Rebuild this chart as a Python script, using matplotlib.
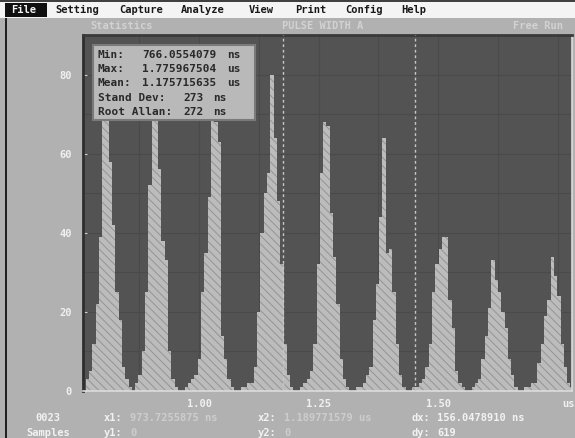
import numpy as np
import matplotlib
matplotlib.use("Agg")
import matplotlib.pyplot as plt
from matplotlib.patches import Rectangle

# ---------------- data ----------------
bin_start = 0.7625      # us, left edge of first bin
bin_width = 0.0069      # us
counts = [3, 5, 12, 22, 39, 72, 78, 58, 42, 25, 18, 6, 3, 1, 0, 2,
          4, 10, 25, 52, 78, 70, 56, 38, 33, 10, 3, 1, 0, 0, 1, 2,
          3, 4, 8, 25, 35, 49, 80, 68, 63, 14, 8, 3, 1, 0, 0, 1,
          1, 2, 2, 6, 20, 40, 50, 55, 80, 64, 48, 32, 12, 4, 1, 0,
          0, 1, 2, 3, 5, 12, 32, 55, 68, 67, 45, 34, 22, 8, 3, 1,
          0, 0, 1, 1, 2, 4, 6, 18, 27, 44, 64, 35, 36, 25, 12, 4,
          1, 0, 0, 1, 1, 2, 3, 6, 12, 25, 32, 36, 39, 39, 23, 16,
          5, 2, 1, 0, 0, 1, 2, 3, 8, 14, 21, 33, 28, 25, 20, 16,
          8, 4, 1, 0, 0, 1, 1, 2, 2, 7, 12, 19, 23, 34, 29, 24,
          12, 6, 2, 1]
x_ticks = [1.00, 1.25, 1.50]
x_tick_labels = ["1.00", "1.25", "1.50"]
y_ticks = [0, 20, 40, 60, 80]
cursor_x = [1.176, 1.452]

menu_items = ["File", "Setting", "Capture", "Analyze", "View", "Print", "Config", "Help"]
menu_x = [8, 55, 119, 181, 249, 295, 345, 401]

stat_labels = ["Min:", "Max:", "Mean:", "Stand Dev:", "Root Allan:"]
stat_values = ["766.0554079", "1.775967504", "1.175715635", "273", "272"]
stat_units = ["ns", "us", "us", "ns", "ns"]

# ---------------- figure ----------------
W, H = 575, 438
fig = plt.figure(figsize=(W / 100, H / 100), dpi=100, facecolor="#b1b1b1")
mono = "DejaVu Sans Mono"

def fx(px):
    return px / W

def fy(py):
    return 1 - py / H

# menu bar
fig.patches.append(Rectangle((0, fy(18)), 1, fy(2) - fy(18), transform=fig.transFigure,
                             facecolor="#f4f4f4", edgecolor="none", zorder=1))
fig.patches.append(Rectangle((0, fy(2)), 1, 1 - fy(2), transform=fig.transFigure,
                             facecolor="#404040", edgecolor="none", zorder=1))
fig.patches.append(Rectangle((fx(5), fy(17)), fx(42), fy(3) - fy(17), transform=fig.transFigure,
                             facecolor="#101010", edgecolor="none", zorder=2))
for i, (name, px) in enumerate(zip(menu_items, menu_x)):
    fig.text(fx(px + (3 if i == 0 else 0)), fy(10), name, family=mono, fontsize=7.5,
             fontweight="bold", color="#f4f4f4" if i == 0 else "#181818",
             va="center", ha="left", zorder=3)

# left frame line
fig.patches.append(Rectangle((fx(5), 0), fx(2), fy(18), transform=fig.transFigure,
                             facecolor="#222222", edgecolor="none", zorder=1))

# title row
for txt, px in [("Statistics", 90), ("PULSE WIDTH A", 282), ("Free Run", 513)]:
    fig.text(fx(px), fy(26), txt, family=mono, fontsize=7.5, color="#d2d2d2",
             va="center", ha="left", fontweight="bold")

# ---------------- axes ----------------
ax = fig.add_axes([fx(83), fy(391), fx(572) - fx(83), fy(35) - fy(391)])
ax.set_facecolor("#535353")
ax.set_xlim(0.757, 1.780)
ax.set_ylim(0, 90)

for gy in np.arange(10, 90, 10):
    ax.axhline(gy, color="#4a4a4a", lw=0.8, zorder=0.5)
for gx in np.arange(0.875, 1.78, 0.125):
    ax.axvline(gx, color="#4a4a4a", lw=0.8, zorder=0.5)

plt.rcParams["hatch.linewidth"] = 0.7
centers = bin_start + bin_width * (np.arange(len(counts)) + 0.5)
ax.bar(centers, counts, width=bin_width, color="#bcbcbc", edgecolor="#949494",
       linewidth=0, hatch="\\\\\\\\", zorder=2)

for cx in cursor_x:
    ax.axvline(cx, color="#c8c8c8", lw=1, linestyle=(0, (2, 2)), zorder=3)

ax.set_xticks(x_ticks)
ax.set_xticklabels(x_tick_labels)
ax.set_yticks(y_ticks)
ax.set_yticklabels([str(v) for v in y_ticks])
ax.tick_params(axis="both", direction="in", length=3, color="#d0d0d0",
               labelcolor="#f0f0f0", labelsize=7.5)
ax.tick_params(axis="y", pad=8)
ax.tick_params(axis="x", pad=6)
for lab in ax.get_xticklabels() + ax.get_yticklabels():
    lab.set_family(mono)
    lab.set_fontweight("bold")

ax.spines["left"].set_color("#2e2e2e")
ax.spines["left"].set_linewidth(2)
ax.spines["top"].set_color("#3a3a3a")
ax.spines["top"].set_linewidth(2)
ax.spines["bottom"].set_color("#dcdcdc")
ax.spines["bottom"].set_linewidth(1.2)
ax.spines["right"].set_color("#dcdcdc")
ax.spines["right"].set_linewidth(1.2)

fig.text(fx(562), fy(404), "us", family=mono, fontsize=7.5, color="#f0f0f0",
         fontweight="bold", va="center", ha="left")

# stats box
fig.patches.append(Rectangle((fx(93), fy(120)), fx(255) - fx(93), fy(45) - fy(120),
                             transform=fig.transFigure, facecolor="#b9b9b9",
                             edgecolor="#7a7a7a", linewidth=1.5, zorder=5))
rows_y = [55, 69.5, 83.5, 98, 112]
for i, (lab, val, unit) in enumerate(zip(stat_labels, stat_values, stat_units)):
    y = fy(rows_y[i])
    fig.text(fx(98), y, lab, family=mono, fontsize=8, fontweight="bold",
             color="#2a2a2a", va="center", ha="left", zorder=6)
    vx, ux = (142, 227) if i < 3 else (183, 213)
    fig.text(fx(vx), y, val, family=mono, fontsize=8, fontweight="bold",
             color="#2a2a2a", va="center", ha="left", zorder=6)
    fig.text(fx(ux), y, unit, family=mono, fontsize=8, fontweight="bold",
             color="#2a2a2a", va="center", ha="left", zorder=6)

# bottom status lines
bright = "#f2f2f2"
faint = "#cdcdcd"
status = [
    (35, 418, "0023", bright), (26, 433, "Samples", bright),
    (104, 418, "x1:", bright), (130, 418, "973.7255875 ns", faint),
    (104, 433, "y1:", bright), (130, 433, "0", faint),
    (258, 418, "x2:", bright), (284, 418, "1.189771579 us", faint),
    (258, 433, "y2:", bright), (284, 433, "0", faint),
    (411, 418, "dx:", bright), (437, 418, "156.0478910 ns", bright),
    (411, 433, "dy:", bright), (437, 433, "619", bright),
]
for px, py, txt, col in status:
    fig.text(fx(px), fy(py), txt, family=mono, fontsize=7.5, fontweight="bold",
             color=col, va="center", ha="left")

fig.savefig("out.png", dpi=100, facecolor=fig.get_facecolor())
